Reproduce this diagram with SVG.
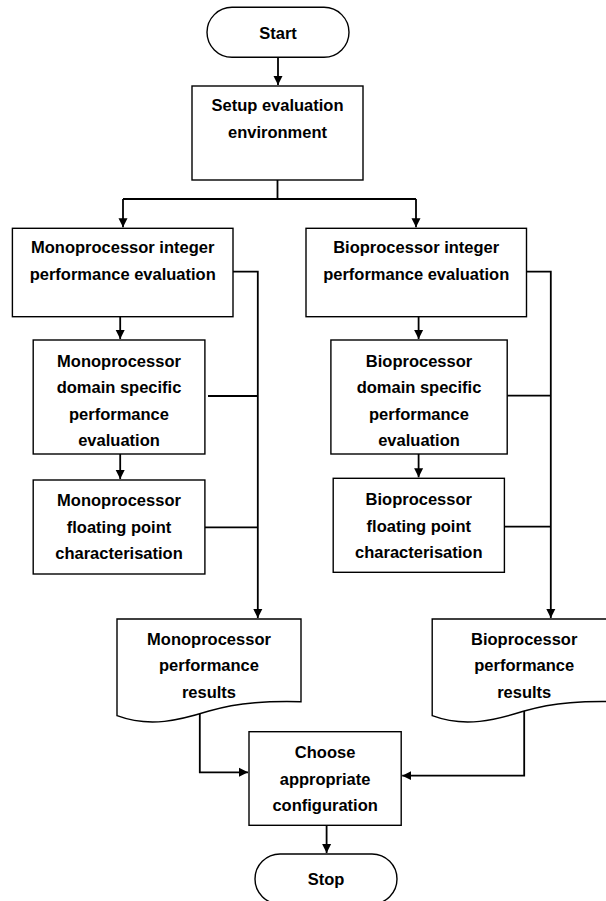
<svg xmlns="http://www.w3.org/2000/svg" width="606" height="901" viewBox="0 0 606 901">
<defs>
<style>
.box{fill:#fff;stroke:#000;stroke-width:1.4}
.ln{fill:none;stroke:#000;stroke-width:1.8}
.t{font-family:"Liberation Sans",Arial,sans-serif;font-weight:bold;font-size:16.5px;fill:#000;text-anchor:middle}
</style>
<marker id="ah" markerUnits="userSpaceOnUse" markerWidth="10" markerHeight="10" refX="9" refY="5" orient="auto">
<path d="M0,0.5 L9,5 L0,9.5 z" fill="#000"/>
</marker>
</defs>
<rect width="606" height="901" fill="#fff"/>
<g id="connectors">
<path class="ln" d="M278,57.3 V85" marker-end="url(#ah)"/>
<path class="ln" d="M277.5,180 V199 M123,199 H416"/>
<path class="ln" d="M123,199 V227.3" marker-end="url(#ah)"/>
<path class="ln" d="M416,199 V227.3" marker-end="url(#ah)"/>
<path class="ln" d="M120.2,316.7 V339" marker-end="url(#ah)"/>
<path class="ln" d="M120.2,454 V479" marker-end="url(#ah)"/>
<path class="ln" d="M418.6,316.7 V339" marker-end="url(#ah)"/>
<path class="ln" d="M418.6,454 V477.3" marker-end="url(#ah)"/>
<path class="ln" d="M233,271.7 H257.8 V618" marker-end="url(#ah)"/>
<path class="ln" d="M208,396 H257.8 M205,527.3 H257.8"/>
<path class="ln" d="M526.5,271.7 H550.8 V618" marker-end="url(#ah)"/>
<path class="ln" d="M507.2,395.7 H550.8 M504.4,526.7 H550.8"/>
<path class="ln" d="M199.8,713.5 V772.3 H248" marker-end="url(#ah)"/>
<path class="ln" d="M524.2,711 V775.7 H402.2" marker-end="url(#ah)"/>
<path class="ln" d="M326.6,825.3 V853" marker-end="url(#ah)"/>
</g>
<g id="start">
<rect class="box" x="207" y="7.3" width="142" height="50" rx="25"/>
<text class="t" x="278" y="39">Start</text>
</g>
<g id="setup">
<rect class="box" x="192" y="86" width="171" height="94"/>
<text class="t" x="277.5" y="111">Setup evaluation</text>
<text class="t" x="277.5" y="138">environment</text>
</g>
<g id="mono-int">
<rect class="box" x="12.4" y="228.3" width="220.6" height="88.4"/>
<text class="t" x="122.7" y="253">Monoprocessor integer</text>
<text class="t" x="122.7" y="280">performance evaluation</text>
</g>
<g id="bio-int">
<rect class="box" x="306" y="228.3" width="220.5" height="88.4"/>
<text class="t" x="416.2" y="253">Bioprocessor integer</text>
<text class="t" x="416.2" y="280">performance evaluation</text>
</g>
<g id="mono-domain">
<rect class="box" x="33.2" y="340" width="171.7" height="114"/>
<text class="t" x="119" y="366.5">Monoprocessor</text>
<text class="t" x="119" y="393">domain specific</text>
<text class="t" x="119" y="419.5">performance</text>
<text class="t" x="119" y="446">evaluation</text>
</g>
<g id="bio-domain">
<rect class="box" x="330.9" y="340" width="176.3" height="114"/>
<text class="t" x="419" y="366.5">Bioprocessor</text>
<text class="t" x="419" y="393">domain specific</text>
<text class="t" x="419" y="419.5">performance</text>
<text class="t" x="419" y="446">evaluation</text>
</g>
<g id="mono-float">
<rect class="box" x="33.2" y="480" width="171.7" height="94"/>
<text class="t" x="119" y="505.5">Monoprocessor</text>
<text class="t" x="119" y="532.5">floating point</text>
<text class="t" x="119" y="558.5">characterisation</text>
</g>
<g id="bio-float">
<rect class="box" x="333.2" y="478.3" width="171.2" height="94"/>
<text class="t" x="418.8" y="504.5">Bioprocessor</text>
<text class="t" x="418.8" y="531.5">floating point</text>
<text class="t" x="418.8" y="558">characterisation</text>
</g>
<g id="mono-results">
<path class="box" d="M117,715.7 V619 H301 V701.7 C270,701 240,702 209,711 C180,720 150,728 117,715.7 z"/>
<text class="t" x="209" y="644.5">Monoprocessor</text>
<text class="t" x="209" y="671">performance</text>
<text class="t" x="209" y="697.5">results</text>
</g>
<g id="bio-results">
<path class="box" d="M432.2,715.7 V619 H616.2 V701.7 C585.2,701 555.2,702 524.2,711 C495.2,720 465.2,728 432.2,715.7 z"/>
<text class="t" x="524.2" y="644.5">Bioprocessor</text>
<text class="t" x="524.2" y="671">performance</text>
<text class="t" x="524.2" y="697.5">results</text>
</g>
<g id="choose">
<rect class="box" x="249" y="731.7" width="152.2" height="93.6"/>
<text class="t" x="325.1" y="757.5">Choose</text>
<text class="t" x="325.1" y="784.5">appropriate</text>
<text class="t" x="325.1" y="811">configuration</text>
</g>
<g id="stop">
<rect class="box" x="255" y="854" width="142" height="50" rx="25"/>
<text class="t" x="326" y="885">Stop</text>
</g>
</svg>
